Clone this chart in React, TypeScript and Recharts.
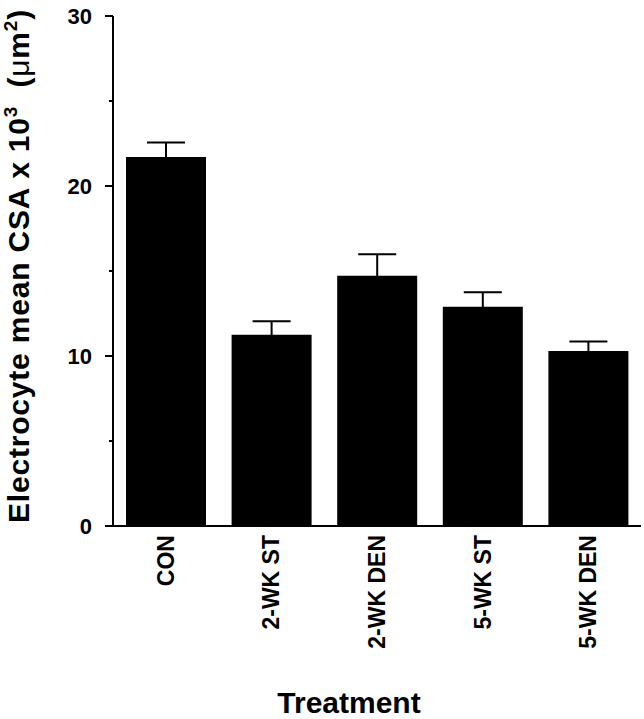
import React from 'react';
import { BarChart, Bar, XAxis, YAxis, ErrorBar, Label } from 'recharts';

const treatments = ['CON', '2-WK ST', '2-WK DEN', '5-WK ST', '5-WK DEN'];
const meanCsa = [21.7, 11.25, 14.72, 12.9, 10.3];
const semCsa = [0.86, 0.8, 1.26, 0.85, 0.56];
const yTicks = [0, 5, 10, 15, 20, 25, 30];

const data = treatments.map((t, i) => ({ treatment: t, mean: meanCsa[i], sem: semCsa[i] }));

const FONT = '"Liberation Sans", Arial, Helvetica, sans-serif';

const TICK_SIZE = 8;
const TICK_MARGIN = 13;

// major ticks get a label, the 5s only a short tick
const YTick = (props: any) => {
  const { x, y, payload } = props;
  const axisX = x + TICK_SIZE + TICK_MARGIN;
  const major = payload.value % 10 === 0;
  return (
    <g>
      <line x1={axisX} x2={axisX - (major ? TICK_SIZE : 4)} y1={y} y2={y} stroke="#000" strokeWidth={2} />
      {major && (
        <text x={x} y={y} dy="0.36em" textAnchor="end" fontFamily={FONT} fontWeight="bold" fontSize={22} fill="#000">
          {payload.value}
        </text>
      )}
    </g>
  );
};

const XTick = (props: any) => {
  const { x, y, payload } = props;
  return (
    <text
      x={x}
      y={y}
      transform={`rotate(-90, ${x}, ${y})`}
      textAnchor="end"
      dy="0.35em"
      fontFamily={FONT}
      fontWeight="bold"
      fontSize={23}
      fill="#000"
    >
      {payload.value}
    </text>
  );
};

const YTitle = (props: any) => {
  const vb = props.viewBox;
  const cx = vb.x + 29;
  const cy = vb.y + vb.height / 2 - 5;
  return (
    <text
      transform={`translate(${cx}, ${cy}) rotate(-90)`}
      textAnchor="middle"
      fontFamily={FONT}
      fontWeight="bold"
      fontSize={30}
      letterSpacing={0.8}
      fill="#000"
    >
      Electrocyte mean CSA x 10
      <tspan fontSize={19} dy={-12}>3</tspan>
      <tspan dy={12}>{'\u00a0\u00a0('}</tspan>
      <tspan fontWeight="normal">μ</tspan>
      <tspan>m</tspan>
      <tspan fontSize={19} dy={-12}>2</tspan>
      <tspan dy={12}>)</tspan>
    </text>
  );
};

const XTitle = (props: any) => {
  const vb = props.viewBox;
  return (
    <text
      x={vb.x + vb.width / 2 - 28}
      y={vb.y + vb.height - 6}
      textAnchor="middle"
      fontFamily={FONT}
      fontWeight="bold"
      fontSize={30}
      fill="#000"
    >
      Treatment
    </text>
  );
};

export default function App() {
  return (
    <div style={{ position: 'absolute', left: 0, top: 0, width: 644, height: 719, background: '#fff' }}>
      <BarChart width={644} height={719} data={data} margin={{ top: 16, right: 3, left: 0, bottom: 0 }}>
        <XAxis
          dataKey="treatment"
          height={193}
          interval={0}
          tick={<XTick />}
          tickLine={false}
          tickSize={0}
          tickMargin={9}
          axisLine={{ stroke: '#000', strokeWidth: 2 }}
        >
          <Label content={<XTitle />} />
        </XAxis>
        <YAxis
          width={113}
          domain={[0, 30]}
          ticks={yTicks}
          interval={0}
          tick={<YTick />}
          tickLine={false}
          tickSize={TICK_SIZE}
          tickMargin={TICK_MARGIN}
          axisLine={{ stroke: '#000', strokeWidth: 2 }}
        >
          <Label content={<YTitle />} />
        </YAxis>
        <Bar dataKey="mean" fill="#000" barSize={80} isAnimationActive={false}>
          <ErrorBar dataKey="sem" width={19} stroke="#000" strokeWidth={2} direction="y" isAnimationActive={false} />
        </Bar>
      </BarChart>
    </div>
  );
}
